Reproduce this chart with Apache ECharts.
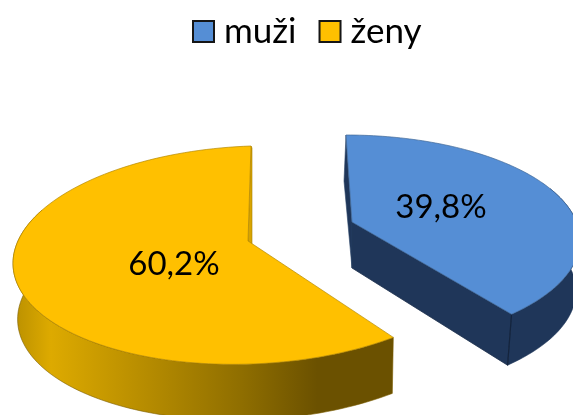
<!DOCTYPE html>
<html><head><meta charset="utf-8">
<style>html,body{margin:0;padding:0;background:#fff}#c{width:573px;height:415px}</style>
<script src="https://cdn.jsdelivr.net/npm/echarts@6/dist/echarts.min.js"></script>
</head><body><div id="c"></div>
<script>
const categories = ['muži', 'ženy'];
const shares = [39.8, 60.2];
const labels = ['39,8%', '60,2%'];

// drawing style of each 3D slice (not data)
const looks = [
  { cx:346, cy:240, a:234, b:105, tilt:0, dir:1, sweep:0.942, apex:[352,222], depth:[46,51], dxBottom:-4, taper:0,
    top:'#558ED5', wall:'#1F3659', startWall:[-2,46], label:[441,207] },
  { cx:251, cy:255, a:238, b:109, tilt:-0.035, dir:-1, sweep:1, apex:[248,241], depth:[54,56], dxBottom:-1, taper:3.5,
    top:'#FFC000', wall:null, startWall:[3,46], label:[174,264] }
];
const yellowWall = [[0,'#B98F00'],[0.1,'#DDAA00'],[0.3,'#BE9200'],[0.6,'#8F6E00'],[0.8,'#6B5100'],[1,'#6B5100']];

function pt(l, deg, extra) {
  const t = deg * Math.PI / 180;
  const x = l.cx + l.a * Math.sin(t) * l.dir;
  const y = l.cy - l.b * Math.cos(t) + l.tilt * (x - l.cx);
  return [x + (extra ? extra[0] : 0), y + (extra ? extra[1] : 0)];
}

function renderSlice(params, api) {
  const i = params.seriesIndex, l = looks[i];
  const sweep = api.value(0) / 100 * 360 * l.sweep;
  const arc = [];
  for (let d = 0; d <= sweep + 1e-6; d += sweep / 120) arc.push(d);
  const topPts = arc.map(d => pt(l, d));
  const face = [l.apex].concat(topPts);
  const children = [];
  const start = topPts[0], end = topPts[topPts.length - 1];
  const wallFill = l.wall || { type:'linear', x:0, y:0, x2:1, y2:0, global:false,
    colorStops: yellowWall.map(s => ({offset:s[0], color:s[1]})) };

  // curved outer wall (only the part facing the viewer)
  const vis = arc.filter(d => d >= 60);
  const outerTop = vis.map(d => pt(l, d));
  const outerBot = vis.map(d => {
    const p = pt(l, d, [l.dxBottom, l.depth[1]]);
    p[0] += l.taper * (end[0] - p[0]) / l.a;
    return p;
  }).reverse();
  children.push({ type:'polygon', shape:{points:outerTop.concat(outerBot)},
    style:{fill:wallFill, stroke:l.wall ? '#1F3659' : '#7A5D00', lineWidth:0.6} });

  // straight wall from the apex to the end of the arc
  const bApex = [l.apex[0], l.apex[1] + l.depth[0]];
  const bEnd = [end[0] + l.dxBottom, end[1] + l.depth[1]];
  if (l.dir > 0) {
    children.push({ type:'polygon', shape:{points:[l.apex, end, bEnd, bApex]},
      style:{fill:l.wall, stroke:'#1A2D4A', lineWidth:0.8} });
    children.push({ type:'line', shape:{x1:end[0], y1:end[1], x2:bEnd[0], y2:bEnd[1]},
      style:{stroke:'#14243D', lineWidth:1.2} });
  }
  // thin wall along the start edge
  const s2 = [start[0] + l.startWall[0], start[1] + l.startWall[1]];
  children.push({ type:'polygon', shape:{points: l.dir > 0 ? [start, s2, bApex, l.apex]
      : [start, [start[0]+1, start[1]+2], [l.apex[0]+4, l.apex[1]+3], l.apex]},
    style:{fill:l.wall || '#D8A400', stroke:l.wall ? '#2A4468' : '#A98000', lineWidth:0.6} });

  // top face
  children.push({ type:'polygon', shape:{points:face},
    style:{fill:l.top, stroke:l.wall ? '#3F6797' : '#B48800', lineWidth:0.7} });

  // label
  children.push({ type:'text', x:l.label[0], y:l.label[1],
    style:{text:labels[i], fill:'#000', font:'33px Lato', align:'center', verticalAlign:'middle'} });
  return { type:'group', children };
}

const chart = echarts.init(document.getElementById('c'), null, {renderer:'canvas'});
chart.setOption({
  animation:false,
  backgroundColor:'#fff',
  legend:{ left:187, top:9, icon:'rect', itemWidth:21, itemHeight:21, itemGap:22,
    itemStyle:{borderColor:'#151515', borderWidth:2},
    textStyle:{fontFamily:'Lato', fontSize:35, color:'#000', padding:[0,0,0,5]}, data:categories },
  series: categories.map((name, i) => ({
    name, type:'custom', coordinateSystem:'none', renderItem:renderSlice,
    data:[[shares[i]]], itemStyle:{color:looks[i].top}, silent:true
  }))
});
</script></body></html>
